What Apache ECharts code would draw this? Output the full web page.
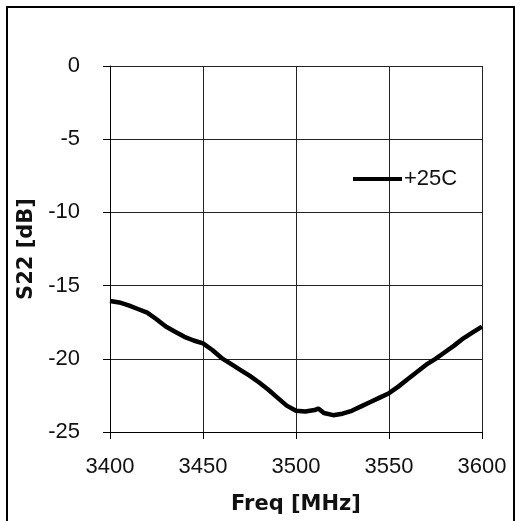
<!DOCTYPE html>
<html>
<head>
<meta charset="utf-8">
<script src="https://cdn.jsdelivr.net/npm/echarts@6/dist/echarts.min.js"></script>
<style>
html,body{margin:0;padding:0;background:#fff;}
#chart{width:519px;height:521px;}
</style>
</head>
<body>
<div id="chart"></div>
<script>
const freqMHz = [3400,3405,3410,3415,3420,3425,3430,3435,3440,3445,3450,3455,3460,3465,3470,3475,3480,3485,3490,3495,3500,3505,3510,3512,3515,3520,3525,3530,3535,3540,3545,3550,3555,3560,3565,3570,3575,3580,3585,3590,3595,3600];
const s22_25C = [-16.05,-16.15,-16.35,-16.6,-16.85,-17.3,-17.8,-18.15,-18.5,-18.75,-18.95,-19.4,-19.95,-20.35,-20.75,-21.15,-21.6,-22.1,-22.65,-23.2,-23.55,-23.6,-23.5,-23.4,-23.7,-23.85,-23.75,-23.55,-23.25,-22.95,-22.65,-22.35,-21.9,-21.4,-20.9,-20.4,-20.0,-19.55,-19.1,-18.6,-18.2,-17.8];
const seriesName = '+25C';
const xTitle = 'Freq [MHz]';
const yTitle = 'S22 [dB]';

const chart = echarts.init(document.getElementById('chart'), null, {renderer:'canvas'});
const labelFont = {fontFamily:'Liberation Sans, Arial, sans-serif', fontSize:22, color:'#111'};
chart.setOption({
  animation:false,
  backgroundColor:'#fff',
  grid:{left:110, right:37, top:66, bottom:89, containLabel:false},
  xAxis:{
    type:'value', min:3400, max:3600, interval:50,
    name:xTitle, nameLocation:'middle', nameGap:62,
    nameTextStyle:{fontFamily:'DejaVu Sans, sans-serif', fontWeight:'bold', fontSize:21, color:'#111'},
    axisLine:{show:true, onZero:false, lineStyle:{color:'#000', width:1}},
    axisTick:{show:true, inside:false, length:7, lineStyle:{color:'#000'}},
    axisLabel:Object.assign({margin:24, formatter:(v)=>String(v)}, labelFont),
    splitLine:{show:true, lineStyle:{color:'#222', width:1}}
  },
  yAxis:{
    type:'value', min:-25, max:0, interval:5,
    name:yTitle, nameLocation:'middle', nameGap:64, nameRotate:90,
    nameTextStyle:{fontFamily:'DejaVu Sans, sans-serif', fontWeight:'bold', fontSize:21, color:'#111'},
    axisLine:{show:true, onZero:false, lineStyle:{color:'#000', width:1}},
    axisTick:{show:true, inside:false, length:7, lineStyle:{color:'#000'}},
    axisLabel:Object.assign({margin:30, formatter:(v)=>String(v)}, labelFont),
    splitLine:{show:true, lineStyle:{color:'#222', width:1}}
  },
  legend:{
    show:true, left:353, top:168, orient:'horizontal', padding:0,
    icon:'rect', itemWidth:49, itemHeight:4, itemGap:0,
    textStyle:Object.assign({padding:[0,0,0,-3]}, labelFont),
    data:[seriesName]
  },
  series:[{
    name:seriesName, type:'line', showSymbol:false, symbol:'none', smooth:false,
    data:freqMHz.map((f,i)=>[f, s22_25C[i]]),
    lineStyle:{color:'#000', width:4.5},
    itemStyle:{color:'#000'}
  }],
  graphic:[{
    type:'rect', silent:true, z:100,
    shape:{x:7, y:7, width:507, height:540},
    style:{fill:'none', stroke:'#000', lineWidth:2}
  }]
});
</script>
</body>
</html>
